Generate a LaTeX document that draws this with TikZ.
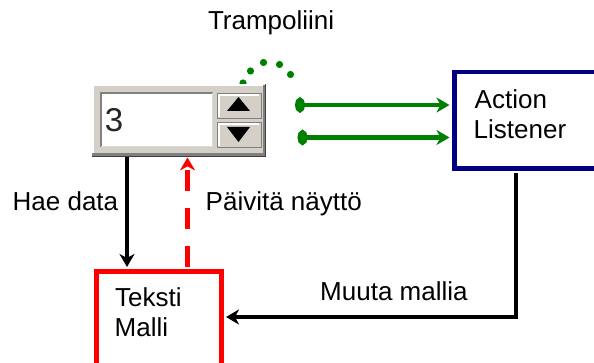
\documentclass[tikz,border=0pt]{standalone}
\usepackage{fontspec}
\setmainfont{Liberation Sans}
\usetikzlibrary{arrows.meta}

\definecolor{navyline}{RGB}{0,0,128}
\definecolor{okgreen}{RGB}{0,128,0}
\definecolor{modelred}{RGB}{255,0,0}
\definecolor{btnface}{RGB}{212,208,200}
\definecolor{btnshadow}{RGB}{128,128,128}
\definecolor{btndark}{RGB}{64,64,64}

\tikzset{
  lbl/.style={font=\fontsize{26}{31}\selectfont, inner sep=0pt, anchor=base west},
  headtip/.style={-{Stealth[length=13pt,width=15pt,inset=4pt]}},
  flow/.style={line width=4.5pt, headtip},
  greenflow/.style={okgreen, line width=4.5pt,
    {Ellipse[length=10pt,width=15pt]}-{Stealth[length=13pt,width=15pt,inset=4pt]}},
  boxnode/.style={rectangle, line width=4.5pt, inner sep=0pt, anchor=north west, fill=white},
  btn/.style={rectangle, fill=btnface, draw=btnshadow, line width=1.2pt, inner sep=0pt, anchor=north west},
  trampdot/.style={fill=okgreen},
}

\begin{document}
\begin{tikzpicture}[x=1pt,y=-1pt]
\useasboundingbox (0,0) rectangle (594,363);

% dotted "trampoline" arc behind the spinner
\foreach \p in {(243,83),(250.5,71),(263.5,62.5),(279.5,64.5),(290.5,74.5)}
  \fill[trampdot] \p circle[radius=3.6];

% spinner widget
\node[rectangle, fill=btnface, inner sep=0pt, anchor=north west,
      minimum width=174pt, minimum height=73pt] (spin) at (92,84) {};
\draw[white, line width=1.5pt] (92.8,156) -- (92.8,84.8) -- (265,84.8);
\draw[btnshadow, line width=3pt] (92,154.5) -- (264.5,154.5) -- (264.5,85);
\draw[btndark, line width=1pt] (92,156.5) -- (265.5,156.5) -- (265.5,84.5);

\node[rectangle, fill=white, inner sep=0pt, anchor=north west,
      minimum width=112pt, minimum height=54pt] (field) at (101,93) {};
\draw[btnshadow, line width=1.5pt] (101,147) -- (101,93) -- (213,93);
\draw[white!85!black, line width=1.2pt] (101,146.5) -- (212.5,146.5) -- (212.5,93);

\node[btn, minimum width=44pt, minimum height=25pt] (up) at (217,93) {};
\node[btn, minimum width=44pt, minimum height=25pt] (down) at (217,122) {};
\draw[white, line width=1.2pt] (219,117) -- (219,95) -- (259,95);
\draw[white, line width=1.2pt] (219,146) -- (219,124) -- (259,124);
\fill[black] (238.5,97) -- (250,111) -- (227,111) -- cycle;
\fill[black] (227,127) -- (250,127) -- (238.5,142) -- cycle;

\node[font=\fontsize{33}{33}\selectfont, text=black!85, inner sep=0pt, anchor=base west]
  (val) at (104.6,132) {3};

% boxes
\node[boxnode, draw=navyline, minimum width=160pt, minimum height=96.5pt] (al) at (452,70) {};
\node[boxnode, draw=modelred, minimum width=125pt, minimum height=120pt] (tm) at (94,269.5) {};

\node[lbl] (alA) at (474.5,108.3) {Action};
\node[lbl] (alB) at (473.5,139) {Listener};
\node[lbl] (tmA) at (115,306) {Teksti};
\node[lbl] (tmB) at (114.5,336.7) {Malli};

% free ends and column positions of the connectors
\coordinate (g1) at (295,105);
\coordinate (g2) at (297.5,137.5);
\coordinate (haeX) at (127,0);
\coordinate (paivX) at (187.5,0);
\coordinate (muutX) at (516,0);
\coordinate (muutY) at (0,317);

% connectors
\draw[greenflow, shorten >=2.5pt] (g1) -- (al.west |- g1);
\draw[greenflow, shorten >=2.5pt] (g2) -- (al.west |- g2);

\draw[flow, shorten >=2.5pt] (spin.south -| haeX) -- (tm.north -| haeX);
\draw[flow, modelred, dash pattern=on 21pt off 16.7pt, dash phase=34.9pt]
  (tm.north -| paivX) -- (spin.south -| paivX);
\draw[flow, line join=miter, shorten <=2.5pt, shorten >=2.5pt]
  (al.south -| muutX) |- (tm.east |- muutY);

% labels
\node[lbl] (tramp) at (207.8,30) {Trampoliini};
\node[lbl] (hae) at (12.5,210.7) {Hae data};
\node[lbl] (paiv) at (205.5,210.7) {Päivitä näyttö};
\node[lbl] (muut) at (320,301) {Muuta mallia};
\end{tikzpicture}
\end{document}
